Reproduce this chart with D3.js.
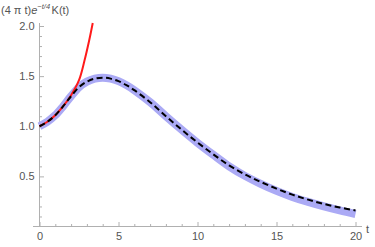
<!DOCTYPE html>
<html>
<head>
<meta charset="utf-8">
<script src="https://cdn.jsdelivr.net/npm/d3@7"></script>
<style>
  body { margin: 0; background: #fff; }
  svg { display: block; font-family: "Liberation Sans", Arial, sans-serif; }
  .tick text { fill: #555; font-size: 11px; }
  .tick line { stroke: #b0b0b0; }
</style>
</head>
<body>
<svg width="375" height="247"></svg>
<script>
var width = 375;
var height = 247;

// t values and curves
var tBlue = [0, 0.5, 1, 1.5, 2, 2.5, 3, 3.5, 4, 4.5, 5, 5.5, 6, 7, 8, 9, 10, 11, 12, 13, 14, 15, 16, 17, 18, 19, 20];
var kBlue = [1.0, 1.045, 1.11, 1.2, 1.3, 1.39, 1.445, 1.475, 1.485, 1.475, 1.45, 1.41, 1.36, 1.24, 1.1, 0.965, 0.835, 0.715, 0.60, 0.505, 0.425, 0.355, 0.295, 0.245, 0.20, 0.16, 0.125];
var tDash = [0, 0.5, 1, 1.5, 2, 2.5, 3, 3.5, 4, 4.5, 5, 5.5, 6, 7, 8, 9, 10, 11, 12, 13, 14, 15, 16, 17, 18, 19, 20];
var kDash = [1.0, 1.045, 1.11, 1.2, 1.3, 1.39, 1.445, 1.475, 1.485, 1.475, 1.45, 1.41, 1.36, 1.24, 1.1, 0.965, 0.838, 0.72, 0.61, 0.52, 0.445, 0.378, 0.318, 0.268, 0.225, 0.19, 0.16];
var tRed = [0, 0.5, 1, 1.5, 2, 2.5, 2.84, 3.15, 3.37];
var kRed = [1.0, 1.045, 1.11, 1.2, 1.31, 1.46, 1.65, 1.86, 2.03];

var xMajor = [0, 5, 10, 15, 20];
var yMajor = [0.5, 1.0, 1.5, 2.0];

var svg = d3.select('svg');

var x = d3.scaleLinear().domain([0, 20]).range([39.5, 355.5]);
var y = d3.scaleLinear().domain([0, 2]).range([226.5, 26]);

// axes lines
svg.append("line")
    .attr("x1", 33).attr("x2", 362)
    .attr("y1", y(0)).attr("y2", y(0))
    .attr("stroke", "#b0b0b0");
svg.append("line")
    .attr("x1", x(0)).attr("x2", x(0))
    .attr("y1", y(0)).attr("y2", 23)
    .attr("stroke", "#b0b0b0");

// minor ticks
var xMinor = d3.range(0, 21, 1).filter(function (d) { return d % 5 !== 0; });
var yMinor = d3.range(1, 21).map(function (d) { return d / 10; }).filter(function (d) { return Math.round(d * 10) % 5 !== 0; });

svg.append("g")
    .attr("transform", "translate(0," + y(0) + ")")
    .call(d3.axisBottom(x).tickValues(xMinor).tickSizeInner(-2.5).tickSizeOuter(0).tickFormat(""))
    .call(function (g) { g.select(".domain").remove(); });
svg.append("g")
    .attr("transform", "translate(" + x(0) + ",0)")
    .call(d3.axisLeft(y).tickValues(yMinor).tickSizeInner(-2.5).tickSizeOuter(0).tickFormat(""))
    .call(function (g) { g.select(".domain").remove(); });

// major ticks
svg.append("g")
    .attr("transform", "translate(0," + y(0) + ")")
    .call(d3.axisBottom(x).tickValues(xMajor).tickSizeInner(-4.5).tickSizeOuter(0).tickPadding(6))
    .call(function (g) { g.select(".domain").remove(); });
svg.append("g")
    .attr("transform", "translate(" + x(0) + ",0)")
    .call(d3.axisLeft(y).tickValues(yMajor).tickSizeInner(-4.5).tickSizeOuter(0).tickPadding(5).tickFormat(d3.format(".1f")))
    .call(function (g) { g.select(".domain").remove(); });

var line = d3.line()
    .x(function (d) { return x(d[0]); })
    .y(function (d) { return y(d[1]); })
    .curve(d3.curveCatmullRom);

svg.append("path")
    .datum(d3.zip(tBlue, kBlue))
    .attr("fill", "none")
    .attr("stroke", "#abaaf5")
    .attr("stroke-width", 8)
    .attr("d", line);

svg.append("path")
    .datum(d3.zip(tRed, kRed))
    .attr("fill", "none")
    .attr("stroke", "#ff1a1a")
    .attr("stroke-width", 2)
    .attr("d", line);

svg.append("path")
    .datum(d3.zip(tDash, kDash))
    .attr("fill", "none")
    .attr("stroke", "#000")
    .attr("stroke-width", 2)
    .attr("stroke-dasharray", "6,3.5")
    .attr("d", line);

// labels
var ylab = svg.append("text")
    .attr("x", 1)
    .attr("y", 14)
    .attr("fill", "#555")
    .attr("font-size", "11px");
ylab.append("tspan").text("(4 π t)");
ylab.append("tspan").attr("font-style", "italic").text("e");
ylab.append("tspan").attr("font-style", "italic").attr("font-size", "7.5px").attr("dy", -5).text("−t/4");
ylab.append("tspan").attr("dy", 5).attr("dx", 1.5).text("K(t)");

svg.append("text")
    .attr("x", 366)
    .attr("y", 233)
    .attr("fill", "#555")
    .attr("font-size", "11px")
    .text("t");
</script>
</body>
</html>
